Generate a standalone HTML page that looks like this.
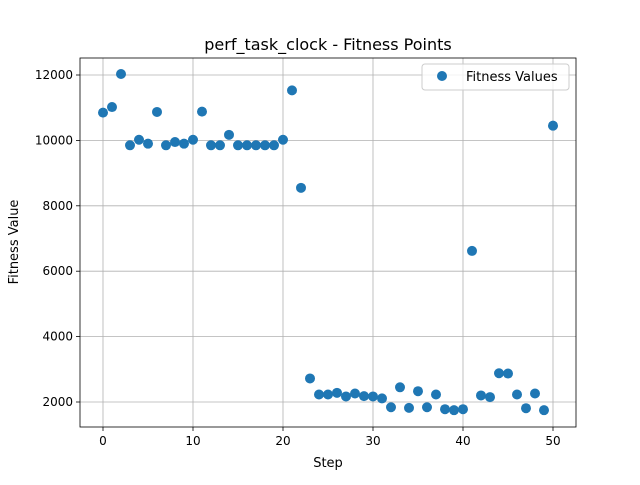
<!DOCTYPE html>
<html><head><meta charset="utf-8"><style>
body{margin:0;background:#fff;font-family:"Liberation Sans","DejaVu Sans",sans-serif}
svg text{font-family:"DejaVu Sans","Liberation Sans",sans-serif}
</style></head><body>
<svg id="chart" width="640" height="480" xmlns="http://www.w3.org/2000/svg">
<rect width="640" height="480" fill="#fff"/>
<g id="grid"></g>
<g id="points"></g>
<rect x="80" y="58" width="496" height="369" fill="none" stroke="#000" stroke-width="0.8"/>
<g id="ticks"></g>
<text x="328" y="50" text-anchor="middle" font-size="16">perf_task_clock - Fitness Points</text>
<text x="328" y="467" text-anchor="middle" font-size="13">Step</text>
<text transform="translate(18,242) rotate(-90)" text-anchor="middle" font-size="13">Fitness Value</text>
<g>
<rect x="422" y="64" width="147" height="26" rx="3" fill="#fff" fill-opacity="0.8" stroke="#ccc"/>
<circle cx="442" cy="76" r="5" fill="#1f77b4"/>
<text x="466" y="81" font-size="13">Fitness Values</text>
</g>
</svg>
<script>
const steps=[];for(let i=0;i<=50;i++)steps.push(i);
const fitness=[10850,11020,12030,9850,10020,9900,10870,9850,9950,9900,10020,10880,9850,9850,10170,9850,9850,9850,9850,9850,10020,11530,8550,2720,2230,2230,2280,2170,2260,2180,2170,2110,1840,2450,1820,2330,1840,2230,1780,1750,1780,6620,2200,2150,2880,2870,2230,1810,2260,1750,10450];
const xTicks=[0,10,20,30,40,50];
const yTicks=[2000,4000,6000,8000,10000,12000];
const NS="http://www.w3.org/2000/svg";
const X=v=>103+v*9;
const Y=v=>402-(v-2000)*0.0327;
const grid=document.getElementById('grid'),pts=document.getElementById('points'),tk=document.getElementById('ticks');
function mk(t,a,p){const e=document.createElementNS(NS,t);for(const k in a)e.setAttribute(k,a[k]);p.appendChild(e);return e;}
xTicks.forEach(t=>{
 const l=mk('line',{x1:X(t),x2:X(t),y1:58,y2:427,stroke:'#b0b0b0','stroke-width':0.8},grid);
 
 
 mk('line',{x1:X(t),x2:X(t),y1:427,y2:431,stroke:'#000','stroke-width':0.8},tk);
 const s=mk('text',{x:X(t),y:445,'text-anchor':'middle','font-size':12},tk);s.textContent=t;
 
 
});
yTicks.forEach(t=>{
 const l=mk('line',{x1:80,x2:576,y1:Y(t),y2:Y(t),stroke:'#b0b0b0','stroke-width':0.8},grid);
 
 
 mk('line',{x1:76,x2:80,y1:Y(t),y2:Y(t),stroke:'#000','stroke-width':0.8},tk);
 const s=mk('text',{x:73,y:Y(t)+4,'text-anchor':'end','font-size':12},tk);s.textContent=t;
 
 
});
steps.forEach((s,i)=>{
 const c=mk('circle',{cx:X(s),cy:Y(fitness[i]),r:5,fill:'#1f77b4'},pts);
 
 
});
</script>
</body></html>
